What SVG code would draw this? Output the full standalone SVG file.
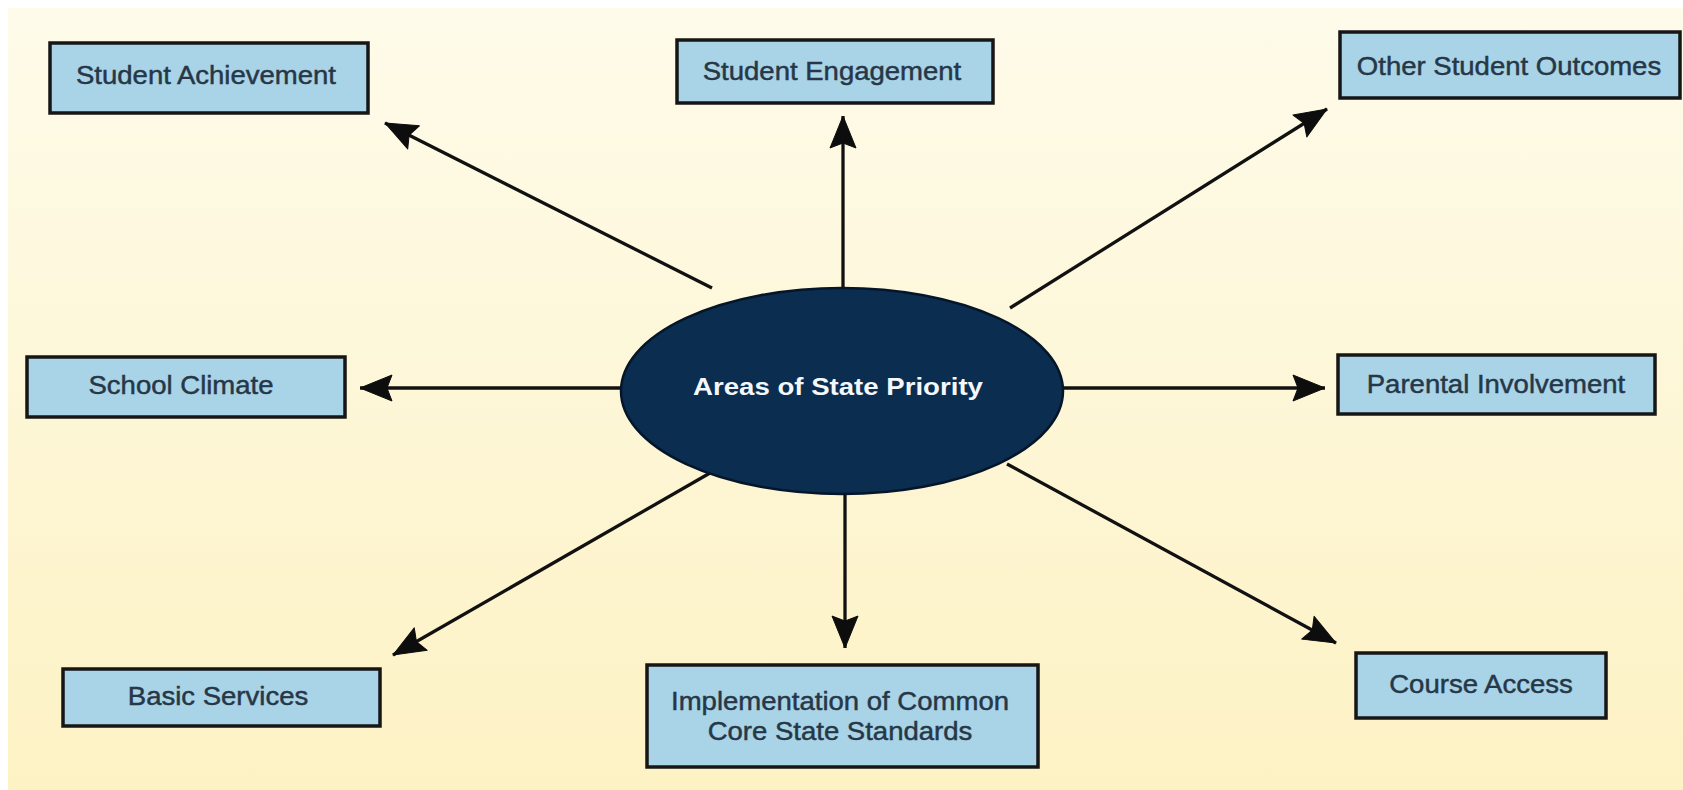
<svg xmlns="http://www.w3.org/2000/svg" width="1683" height="790" viewBox="0 0 1683 790">
<defs>
<linearGradient id="bg" x1="0" y1="0" x2="0" y2="1">
<stop offset="0" stop-color="#fefbea"/>
<stop offset="1" stop-color="#fdf2c4"/>
</linearGradient>
<marker id="ah" viewBox="-34 -15 36 30" refX="0" refY="0" markerWidth="36" markerHeight="30" markerUnits="userSpaceOnUse" orient="auto">
<path d="M0,0 L-32,-13 L-27,0 L-32,13 Z" fill="#0d0d0d" stroke="#0d0d0d" stroke-width="1" stroke-linejoin="round"/>
</marker>
<style>
.box{fill:#a9d3e6;stroke:#161616;stroke-width:3.5}
.lbl{font-family:"Liberation Sans",Arial,sans-serif;font-size:25.5px;fill:#263747;stroke:#263747;stroke-width:0.45;text-anchor:middle}
.conn{stroke:#111;stroke-width:3.3;fill:none;marker-end:url(#ah)}
.ctr{font-family:"Liberation Sans",Arial,sans-serif;font-size:24px;font-weight:bold;fill:#f4f8fc;text-anchor:middle}
</style>
</defs>
<rect width="1683" height="790" fill="#ffffff"/>
<rect x="8" y="8" width="1675" height="782" fill="url(#bg)"/>
<g id="connectors">
<path class="conn" d="M712,288 L385,123"/>
<path class="conn" d="M843,300 L843,116"/>
<path class="conn" d="M1010,308 L1327,109"/>
<path class="conn" d="M640,388 L360,388"/>
<path class="conn" d="M1050,388 L1325,388"/>
<path class="conn" d="M710,473 L393,655"/>
<path class="conn" d="M845,480 L845,648"/>
<path class="conn" d="M1007,464 L1336,643"/>
</g>
<g id="center">
<ellipse cx="842" cy="391" rx="221" ry="103" fill="#0b2d50" stroke="#05152a" stroke-width="2.5"/>
<text class="ctr" transform="translate(838,395) scale(1.15,1)">Areas of State Priority</text>
</g>
<g id="student-achievement">
<rect class="box" x="50" y="43" width="318" height="70"/>
<text class="lbl" transform="translate(206,84) scale(1.08,1)">Student Achievement</text>
</g>
<g id="student-engagement">
<rect class="box" x="677" y="40" width="316" height="63"/>
<text class="lbl" transform="translate(832,80) scale(1.08,1)">Student Engagement</text>
</g>
<g id="other-student-outcomes">
<rect class="box" x="1340" y="32" width="340" height="66"/>
<text class="lbl" transform="translate(1509,75) scale(1.08,1)">Other Student Outcomes</text>
</g>
<g id="school-climate">
<rect class="box" x="27" y="357" width="318" height="60"/>
<text class="lbl" transform="translate(181,394) scale(1.08,1)">School Climate</text>
</g>
<g id="parental-involvement">
<rect class="box" x="1338" y="355" width="317" height="59"/>
<text class="lbl" transform="translate(1496,393) scale(1.08,1)">Parental Involvement</text>
</g>
<g id="basic-services">
<rect class="box" x="63" y="669" width="317" height="57"/>
<text class="lbl" transform="translate(218,705) scale(1.08,1)">Basic Services</text>
</g>
<g id="implementation">
<rect class="box" x="647" y="665" width="391" height="102"/>
<text class="lbl" transform="translate(840,710) scale(1.08,1)">Implementation of Common</text>
<text class="lbl" transform="translate(840,740) scale(1.08,1)">Core State Standards</text>
</g>
<g id="course-access">
<rect class="box" x="1356" y="653" width="250" height="65"/>
<text class="lbl" transform="translate(1481,693) scale(1.08,1)">Course Access</text>
</g>
</svg>
